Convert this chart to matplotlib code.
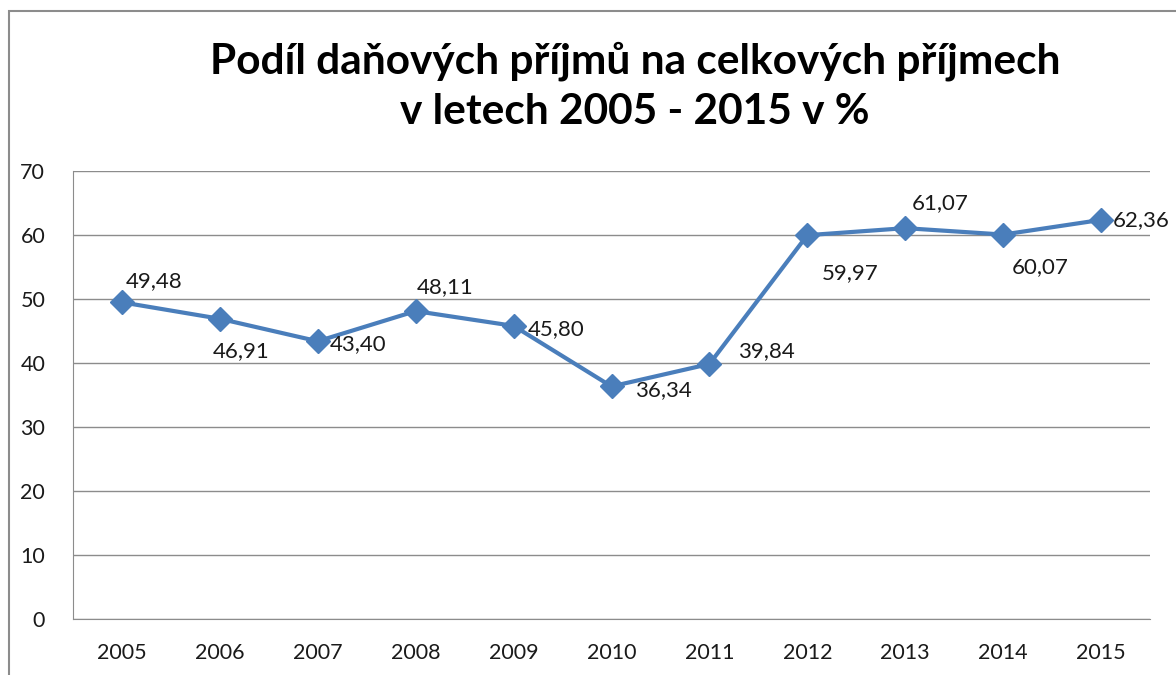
import matplotlib.pyplot as plt
from matplotlib.patches import Rectangle

# data
roky = ["2005", "2006", "2007", "2008", "2009", "2010", "2011", "2012", "2013", "2014", "2015"]
podil = [49.48, 46.91, 43.40, 48.11, 45.80, 36.34, 39.84, 59.97, 61.07, 60.07, 62.36]

# posun popisku (pixely) a zarovnani
posuny = [(32, 21, "center"), (21, -32, "center"), (12, -3, "left"), (29, 24, "center"),
          (14, -3, "left"), (24, -4, "left"), (29, 13, "left"), (43, -38, "center"),
          (35, 25, "center"), (37, -33, "center"), (12, 0, "left")]

plt.rcParams['font.family'] = ['Lato', 'DejaVu Sans']

fig = plt.figure(figsize=(11.76, 6.75), dpi=100)
ax = fig.add_axes([73 / 1176, 1 - 619 / 675, (1150 - 73) / 1176, (619 - 171) / 675])

# ramecek grafu
fig.patches.append(Rectangle((9 / 1176, -0.1), 1.2, 1.1 - 11 / 675, transform=fig.transFigure,
                             fill=False, edgecolor='#8c8c8c', linewidth=1.5))

x = list(range(len(roky)))
ax.plot(x, podil, color='#4a7ebb', linewidth=3, marker='D', markersize=12, zorder=3)

for i, v in enumerate(podil):
    dx, dy, ha = posuny[i]
    ax.annotate(f"{v:.2f}".replace(".", ","), (x[i], v), xytext=(dx, dy),
                textcoords='offset pixels', ha=ha, va='center', fontsize=16, color='#1a1a1a')

ax.set_xlim(-0.5, len(roky) - 0.5)
ax.set_ylim(0, 70)
ax.set_yticks(range(0, 71, 10))
ax.set_xticks(x)
ax.set_xticklabels(roky)
ax.tick_params(axis='both', length=0, labelsize=15.5, colors='#1a1a1a')
ax.tick_params(axis='x', pad=17)
ax.tick_params(axis='y', pad=20)
ax.grid(axis='y', color='#8c8c8c', linewidth=1)
ax.set_axisbelow(True)
for s in ['top', 'right']:
    ax.spines[s].set_visible(False)
ax.spines['left'].set_color('#8c8c8c')
ax.spines['bottom'].set_color('#8c8c8c')

fig.text(0.54, 0.872, "Podíl daňových příjmů na celkových příjmech\nv letech 2005 - 2015 v %",
         ha='center', va='center', fontsize=30.5, fontweight='bold', linespacing=1.4)

fig.savefig("out.png", dpi=100)
